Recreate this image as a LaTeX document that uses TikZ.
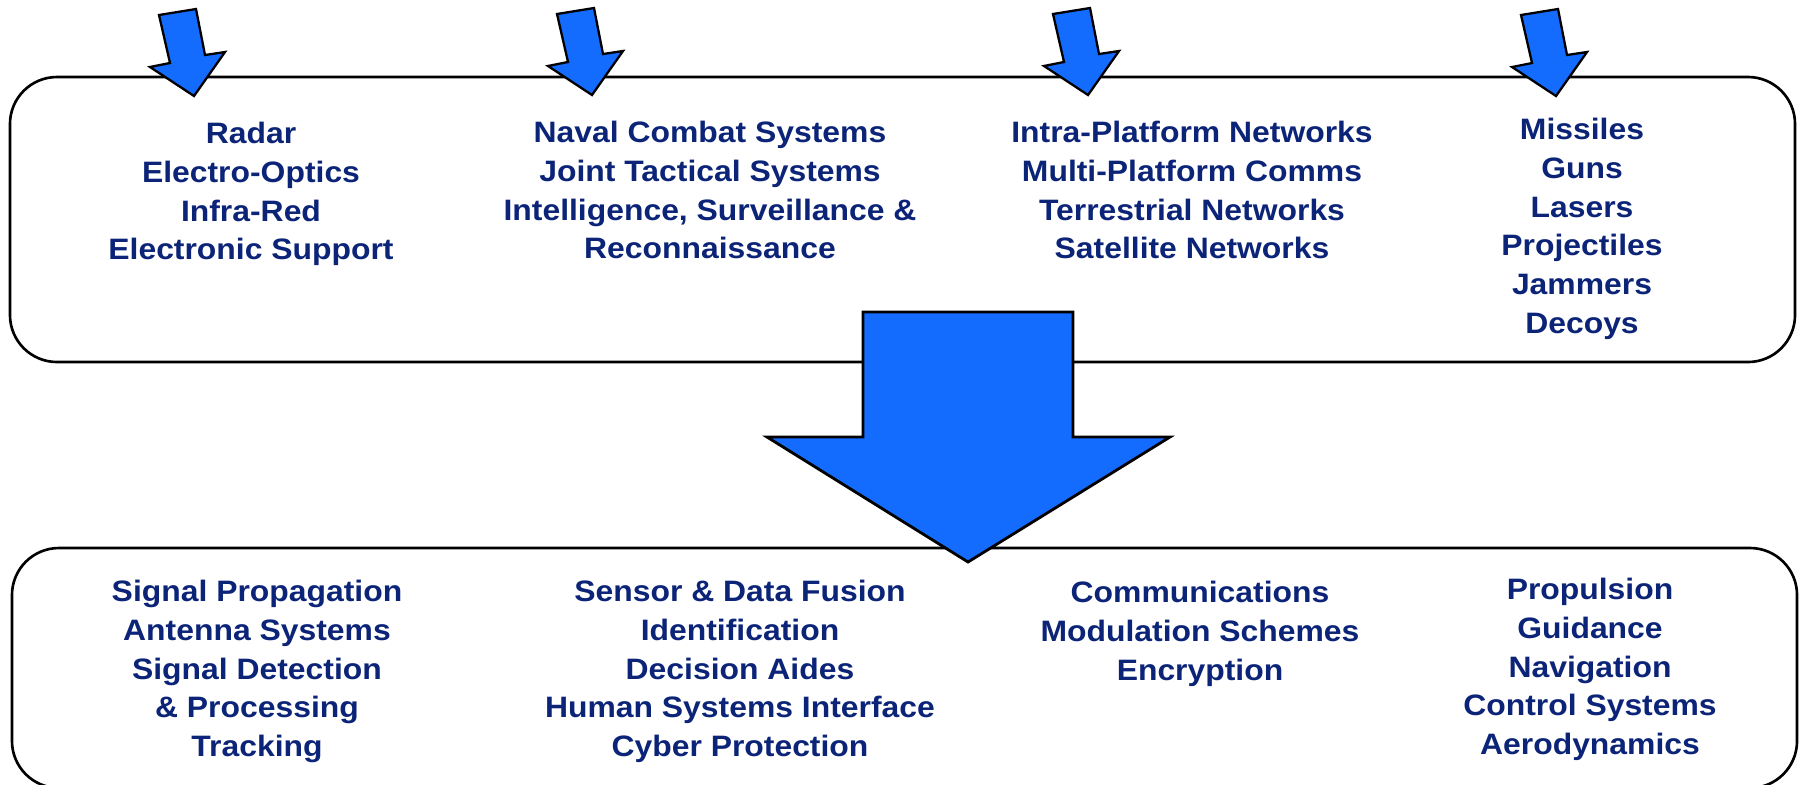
\documentclass[tikz,border=0pt]{standalone}
\usepackage{fontspec}
\setmainfont{Liberation Sans}[FakeStretch=1.08]
\usepackage{tikz}
\usetikzlibrary{positioning}
\definecolor{navytext}{RGB}{12,36,120}
\definecolor{arrowblue}{RGB}{20,108,255}

\begin{document}
\begin{tikzpicture}[x=0.2mm,y=-0.2mm]
	\tikzset{panel/.style={draw,line width=1.5pt,rounded corners=9.4mm,minimum width=357mm,inner sep=0pt},
		item/.style={text=navytext,font=\bfseries\fontsize{16.8}{22}\selectfont,align=center,anchor=north,inner sep=0pt},
		bluefill/.style={fill=arrowblue,draw=black,line width=1.3pt,line join=miter},
		feedarrow/.pic={\draw[bluefill] (0,0) -- (31,-44) -- (11,-41) -- (2,-87) -- (-35,-81) -- (-24,-33) -- (-44,-29) -- cycle;}}
	\useasboundingbox (0,0) rectangle (1804,784);
	\node[panel,minimum height=57mm] (upper) at (902.5,219.5) {};
	\node[panel,minimum height=48mm] (lower) at (904.5,668) {};
	\node[item] (sense) at (251,122) {Radar\\Electro-Optics\\Infra-Red\\Electronic Support};
	\node[item] (combat) at (710,121) {Naval Combat Systems\\Joint Tactical Systems\\Intelligence, Surveillance \&\\Reconnaissance};
	\node[item] (network) at (1192,121) {Intra-Platform Networks\\Multi-Platform Comms\\Terrestrial Networks\\Satellite Networks};
	\node[item] (weapon) at (1582,118) {Missiles\\Guns\\Lasers\\Projectiles\\Jammers\\Decoys};
	\node[item] (signal) at (257,580) {Signal Propagation\\Antenna Systems\\Signal Detection\\\& Processing\\Tracking};
	\node[item] (fusion) at (740,580) {Sensor \& Data Fusion\\Identification\\Decision Aides\\Human Systems Interface\\Cyber Protection};
	\node[item] (comms) at (1200,581) {Communications\\Modulation Schemes\\Encryption};
	\node[item] (flight) at (1590,578) {Propulsion\\Guidance\\Navigation\\Control Systems\\Aerodynamics};
	% small arrows into the upper panel
	\pic at (194,96) {feedarrow};
	\pic at (592,95) {feedarrow};
	\pic at (1088,95) {feedarrow};
	\pic at (1556,96) {feedarrow};
	% big arrow from upper to lower panel
	\draw[bluefill,line width=1.6pt] (863,312) -- (1073,312) -- (1073,437) -- (1170,437) -- (968,562) -- (767,437) -- (863,437) -- cycle;
\end{tikzpicture}
\end{document}
